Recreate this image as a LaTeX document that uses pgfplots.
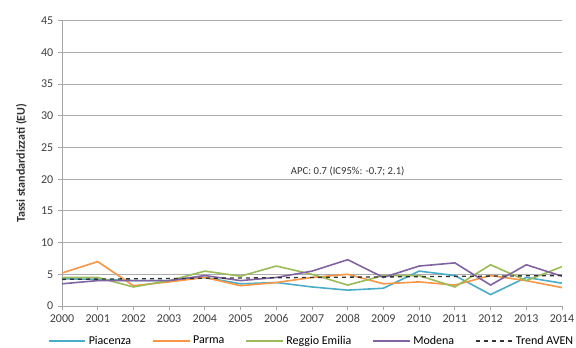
\documentclass[border=0pt]{standalone}
\usepackage{pgfplots}
\pgfplotsset{compat=1.18}
\usepackage{fontspec}
\setmainfont{Carlito}
\definecolor{cPia}{HTML}{4BACC6}
\definecolor{cPar}{HTML}{F79646}
\definecolor{cReg}{HTML}{9BBB59}
\definecolor{cMod}{HTML}{8064A2}
\begin{document}
\begin{tikzpicture}
\begin{axis}[
  scale only axis, width=375pt, height=214pt,
  xmin=2000, xmax=2014, ymin=0, ymax=45,
  xtick={2000,...,2014}, ytick={0,5,...,45},
  /pgf/number format/assume math mode=true,
  xticklabel style={/pgf/number format/1000 sep={}},
  ticklabel style={font=\small, text=black!75},
  ymajorgrids, grid style={gray!65, line width=0.7pt},
  axis x line*=bottom, axis y line*=left,
  axis line style={gray!70, line width=0.7pt},
  tick style={gray!70, line width=0.6pt}, tick align=outside,
  major tick length=3pt,
  ylabel={\textbf{Tassi standardizzati (EU)}}, ylabel style={font=\small, text=black!80, yshift=4pt},
  legend columns=5, legend style={draw=none, font=\small, at={(0.5,-0.085)}, anchor=north,
     /tikz/every even column/.append style={column sep=14pt}},
  legend image post style={xscale=1.6},
  every axis plot/.append style={line width=1.2pt},
]
\addplot[cPia] coordinates {(2000,4.3)(2001,4.2)(2002,4.0)(2003,4.0)(2004,4.5)(2005,3.5)(2006,3.7)(2007,3.0)(2008,2.5)(2009,2.8)(2010,5.5)(2011,4.8)(2012,1.8)(2013,4.5)(2014,3.6)};
\addlegendentry{Piacenza}
\addplot[cPar] coordinates {(2000,5.2)(2001,7.0)(2002,3.2)(2003,3.8)(2004,4.5)(2005,3.2)(2006,3.7)(2007,4.5)(2008,5.0)(2009,3.5)(2010,3.8)(2011,3.3)(2012,4.8)(2013,4.0)(2014,2.9)};
\addlegendentry{Parma}
\addplot[cReg] coordinates {(2000,4.5)(2001,4.5)(2002,3.0)(2003,4.0)(2004,5.5)(2005,4.7)(2006,6.3)(2007,5.0)(2008,3.3)(2009,4.8)(2010,4.8)(2011,3.0)(2012,6.5)(2013,4.0)(2014,6.2)};
\addlegendentry{Reggio Emilia}
\addplot[cMod] coordinates {(2000,3.5)(2001,4.0)(2002,4.0)(2003,4.0)(2004,4.8)(2005,4.0)(2006,4.5)(2007,5.5)(2008,7.3)(2009,4.5)(2010,6.3)(2011,6.8)(2012,3.3)(2013,6.5)(2014,4.7)};
\addlegendentry{Modena}
\addplot[black!80, dashed, line width=1pt] coordinates {(2000,4.2)(2014,4.8)};
\addlegendentry{Trend AVEN}
\node[font=\footnotesize, text=black!80] at (axis cs:2008,21.3) {APC: 0.7 (IC95\%: -0.7; 2.1)};
\end{axis}
\pgfresetboundingbox
\path (-46.5pt,-31.5pt) rectangle (385.5pt,229.5pt);
\end{tikzpicture}
\end{document}
